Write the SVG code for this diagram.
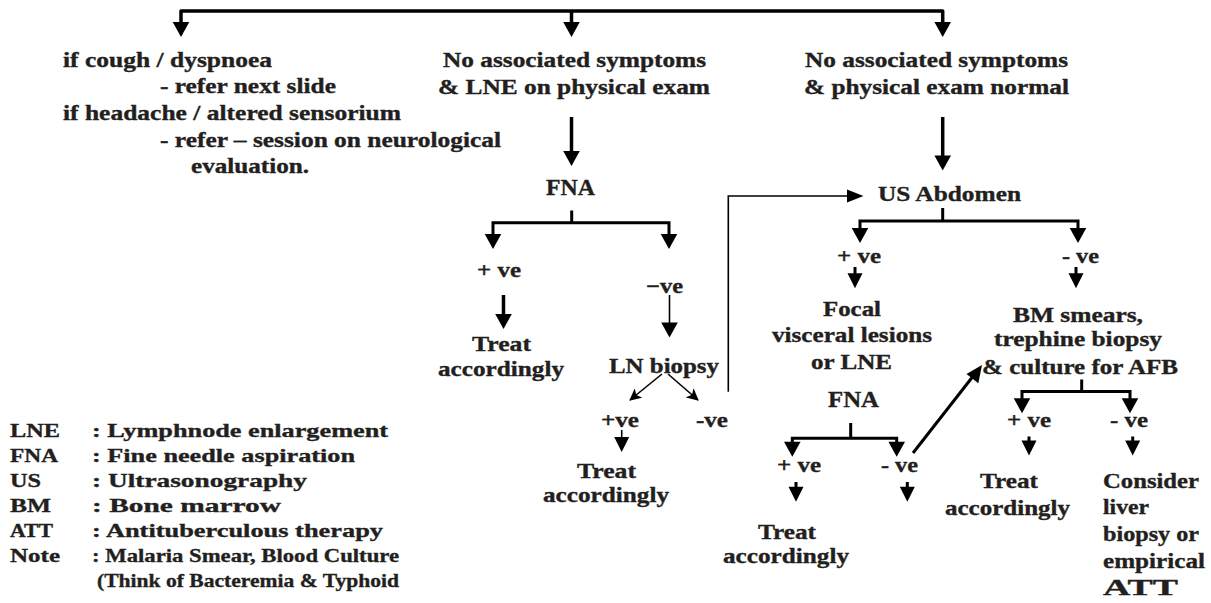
<svg xmlns="http://www.w3.org/2000/svg" xmlns:xlink="http://www.w3.org/1999/xlink" width="1211" height="603" viewBox="0 0 1211 603">
<style>
text{font-family:"Liberation Serif","Times New Roman",serif;font-weight:bold;font-size:20.5px;fill:#231f20;stroke:#231f20;stroke-width:0.35px}
.big{font-size:24px}
.leg{font-size:19.5px}
.thick{stroke:#000;stroke-width:3.5;fill:none;stroke-linejoin:round}
.mid{stroke:#000;stroke-width:3;fill:none}
.thin{stroke:#000;stroke-width:1.6;fill:none}
.head{fill:#000}
</style>
<defs>
<path id="hd" d="M-8.3,0 H8.3 L0,15 Z"/>
<path id="hs" d="M-7.5,0 H7.5 L0,15 Z"/>
<marker id="mt" viewBox="0 0 12 12" refX="11" refY="6" markerWidth="12" markerHeight="12" markerUnits="userSpaceOnUse" orient="auto">
<path d="M0,0 L12,6 L0,12 L3,6 Z" fill="#000"/>
</marker>
</defs>
<rect width="1211" height="603" fill="#fff"/>

<g id="connectors">
<path class="thick" d="M181,24 V11 H942.7 V24 M571.5,11 V24"/>
<use href="#hd" xlink:href="#hd" x="181" y="22" class="head"/>
<use href="#hd" xlink:href="#hd" x="571.5" y="22" class="head"/>
<use href="#hd" xlink:href="#hd" x="942.7" y="22" class="head"/>

<path class="thick" d="M571.5,117 V153"/>
<use href="#hd" xlink:href="#hd" x="571.5" y="151" class="head"/>
<path class="thick" d="M942.7,117 V157"/>
<use href="#hd" xlink:href="#hd" x="942.7" y="155.5" class="head"/>

<path class="mid" d="M571.7,210.5 V222.7 M493,236 V222.7 H669 V236"/>
<use href="#hd" xlink:href="#hd" x="493" y="234" class="head"/>
<use href="#hd" xlink:href="#hd" x="669" y="234" class="head"/>

<path class="thick" d="M503.5,295 V316"/>
<use href="#hd" xlink:href="#hd" x="503.5" y="314" class="head"/>
<path class="thin" d="M669.5,295 V324"/>
<use href="#hd" xlink:href="#hd" x="669.5" y="322.5" class="head"/>

<path class="thin" d="M662,374 L630,400" marker-end="url(#mt)"/>
<path class="thin" d="M668,374 L698,400" marker-end="url(#mt)"/>

<path class="thin" stroke-width="2" d="M728.3,391.7 V196 H850"/>
<path class="head" d="M847,189.5 L863.5,196 L847,202.5 Z"/>

<path class="thin" d="M621.7,430 V438"/>
<use href="#hs" xlink:href="#hs" x="621.7" y="437" class="head"/>

<path class="mid" d="M942.7,208 V221 M860,230 V221 H1078 V230"/>
<use href="#hd" xlink:href="#hd" x="860" y="228" class="head"/>
<use href="#hd" xlink:href="#hd" x="1078" y="228" class="head"/>

<path class="mid" d="M855,267 V275 M1076,267 V275"/>
<use href="#hs" xlink:href="#hs" x="855" y="273.3" class="head"/>
<use href="#hs" xlink:href="#hs" x="1076" y="273.3" class="head"/>

<path class="mid" d="M913,453 L974,375"/>
<path class="head" d="M982,365 L978.3,383.2 L966.5,374 Z"/>

<path class="mid" d="M850.7,423 V438.3 M792.3,443 V438.3 H896.7 V443"/>
<use href="#hd" xlink:href="#hd" x="792.3" y="441.7" class="head"/>
<use href="#hd" xlink:href="#hd" x="896.7" y="441.7" class="head"/>

<path class="mid" d="M796,482 V488 M907.3,482 V488"/>
<use href="#hs" xlink:href="#hs" x="796" y="486.7" class="head"/>
<use href="#hs" xlink:href="#hs" x="907.3" y="486.7" class="head"/>

<path class="mid" d="M1081.7,379.5 V391.5 M1022,400 V391.5 H1130 V400"/>
<use href="#hd" xlink:href="#hd" x="1022" y="398.3" class="head"/>
<use href="#hd" xlink:href="#hd" x="1130" y="398.3" class="head"/>

<path class="mid" d="M1029,436.5 V442 M1132.7,436.5 V442"/>
<use href="#hs" xlink:href="#hs" x="1029" y="440.5" class="head"/>
<use href="#hs" xlink:href="#hs" x="1132.7" y="440.5" class="head"/>
</g>

<g id="n-cough">
<text x="63" y="67" textLength="209" lengthAdjust="spacingAndGlyphs">if cough / dyspnoea</text>
<text x="160" y="93" textLength="176" lengthAdjust="spacingAndGlyphs">- refer next slide</text>
<text x="63" y="120" textLength="338" lengthAdjust="spacingAndGlyphs">if headache / altered sensorium</text>
<text x="160" y="147" textLength="341" lengthAdjust="spacingAndGlyphs">- refer – session on neurological</text>
<text x="191" y="173" textLength="118" lengthAdjust="spacingAndGlyphs">evaluation.</text>
</g>

<g id="n-lne">
<text x="443" y="67" textLength="263" lengthAdjust="spacingAndGlyphs">No associated symptoms</text>
<text x="438" y="94" textLength="272" lengthAdjust="spacingAndGlyphs">&amp; LNE on physical exam</text>
</g>

<g id="n-normal">
<text x="805" y="67" textLength="263" lengthAdjust="spacingAndGlyphs">No associated symptoms</text>
<text x="804" y="94" textLength="265" lengthAdjust="spacingAndGlyphs">&amp; physical exam normal</text>
</g>

<g id="n-fna1"><text class="big" x="546" y="195" textLength="49" lengthAdjust="spacingAndGlyphs">FNA</text></g>
<g id="n-fna1-pos"><text x="477" y="277" textLength="44" lengthAdjust="spacingAndGlyphs">+ ve</text></g>
<g id="n-fna1-neg"><text x="646" y="293" textLength="37" lengthAdjust="spacingAndGlyphs">−ve</text></g>
<g id="n-treat1">
<text x="472" y="351" textLength="59" lengthAdjust="spacingAndGlyphs">Treat</text>
<text x="438" y="376" textLength="126" lengthAdjust="spacingAndGlyphs">accordingly</text>
</g>
<g id="n-lnbiopsy"><text x="609" y="373" textLength="110" lengthAdjust="spacingAndGlyphs">LN biopsy</text></g>
<g id="n-ln-pos"><text x="601" y="427" textLength="38" lengthAdjust="spacingAndGlyphs">+ve</text></g>
<g id="n-ln-neg"><text x="696" y="427" textLength="32" lengthAdjust="spacingAndGlyphs">-ve</text></g>
<g id="n-treat2">
<text x="577" y="478" textLength="59" lengthAdjust="spacingAndGlyphs">Treat</text>
<text x="543" y="502" textLength="126" lengthAdjust="spacingAndGlyphs">accordingly</text>
</g>

<g id="n-us"><text x="878" y="201" style="font-size:21.5px" textLength="143" lengthAdjust="spacingAndGlyphs">US Abdomen</text></g>
<g id="n-us-pos"><text x="837" y="263" textLength="44" lengthAdjust="spacingAndGlyphs">+ ve</text></g>
<g id="n-us-neg"><text x="1062" y="263" textLength="37" lengthAdjust="spacingAndGlyphs">- ve</text></g>
<g id="n-focal">
<text x="823" y="316" textLength="58" lengthAdjust="spacingAndGlyphs">Focal</text>
<text x="772" y="342" textLength="160" lengthAdjust="spacingAndGlyphs">visceral lesions</text>
<text x="811" y="369" textLength="81" lengthAdjust="spacingAndGlyphs">or LNE</text>
</g>
<g id="n-fna2"><text class="big" x="828" y="407" textLength="51" lengthAdjust="spacingAndGlyphs">FNA</text></g>
<g id="n-fna2-pos"><text x="777" y="472" textLength="44" lengthAdjust="spacingAndGlyphs">+ ve</text></g>
<g id="n-fna2-neg"><text x="881" y="472" textLength="37" lengthAdjust="spacingAndGlyphs">- ve</text></g>
<g id="n-treat3">
<text x="758" y="539" textLength="58" lengthAdjust="spacingAndGlyphs">Treat</text>
<text x="723" y="563" textLength="126" lengthAdjust="spacingAndGlyphs">accordingly</text>
</g>

<g id="n-bm">
<text x="1013" y="322" textLength="130" lengthAdjust="spacingAndGlyphs">BM smears,</text>
<text x="994" y="346" textLength="168" lengthAdjust="spacingAndGlyphs">trephine biopsy</text>
<text x="982" y="374" textLength="196" lengthAdjust="spacingAndGlyphs">&amp; culture for AFB</text>
</g>
<g id="n-bm-pos"><text x="1007" y="427" textLength="44" lengthAdjust="spacingAndGlyphs">+ ve</text></g>
<g id="n-bm-neg"><text x="1110" y="427" textLength="38" lengthAdjust="spacingAndGlyphs">- ve</text></g>
<g id="n-treat4">
<text x="980" y="488" textLength="58" lengthAdjust="spacingAndGlyphs">Treat</text>
<text x="945" y="515" textLength="125" lengthAdjust="spacingAndGlyphs">accordingly</text>
</g>
<g id="n-consider">
<text x="1103" y="488" textLength="96" lengthAdjust="spacingAndGlyphs">Consider</text>
<text x="1103" y="514" textLength="46" lengthAdjust="spacingAndGlyphs">liver</text>
<text x="1103" y="541" textLength="96" lengthAdjust="spacingAndGlyphs">biopsy or</text>
<text x="1103" y="568" textLength="102" lengthAdjust="spacingAndGlyphs">empirical</text>
<text class="big" x="1103" y="595" textLength="75" lengthAdjust="spacingAndGlyphs">ATT</text>
</g>

<g id="legend">
<text class="leg" x="10" y="437" textLength="50" lengthAdjust="spacingAndGlyphs">LNE</text>
<text class="leg" x="10" y="462" textLength="48" lengthAdjust="spacingAndGlyphs">FNA</text>
<text class="leg" x="10" y="487" textLength="31" lengthAdjust="spacingAndGlyphs">US</text>
<text class="leg" x="10" y="512" textLength="41" lengthAdjust="spacingAndGlyphs">BM</text>
<text class="leg" x="10" y="537" textLength="43" lengthAdjust="spacingAndGlyphs">ATT</text>
<text class="leg" x="10" y="562" textLength="50" lengthAdjust="spacingAndGlyphs">Note</text>
<text class="leg" x="92" y="437" textLength="296" lengthAdjust="spacingAndGlyphs">: Lymphnode enlargement</text>
<text class="leg" x="92" y="462" textLength="263" lengthAdjust="spacingAndGlyphs">: Fine needle aspiration</text>
<text class="leg" x="92" y="487" textLength="215" lengthAdjust="spacingAndGlyphs">: Ultrasonography</text>
<text class="leg" x="92" y="512" textLength="189" lengthAdjust="spacingAndGlyphs">: Bone marrow</text>
<text class="leg" x="92" y="537" textLength="291" lengthAdjust="spacingAndGlyphs">: Antituberculous therapy</text>
<text class="leg" x="92" y="562" textLength="307" lengthAdjust="spacingAndGlyphs">: Malaria Smear, Blood Culture</text>
<text class="leg" x="97" y="587" textLength="302" lengthAdjust="spacingAndGlyphs">(Think of Bacteremia &amp; Typhoid</text>
</g>
</svg>
